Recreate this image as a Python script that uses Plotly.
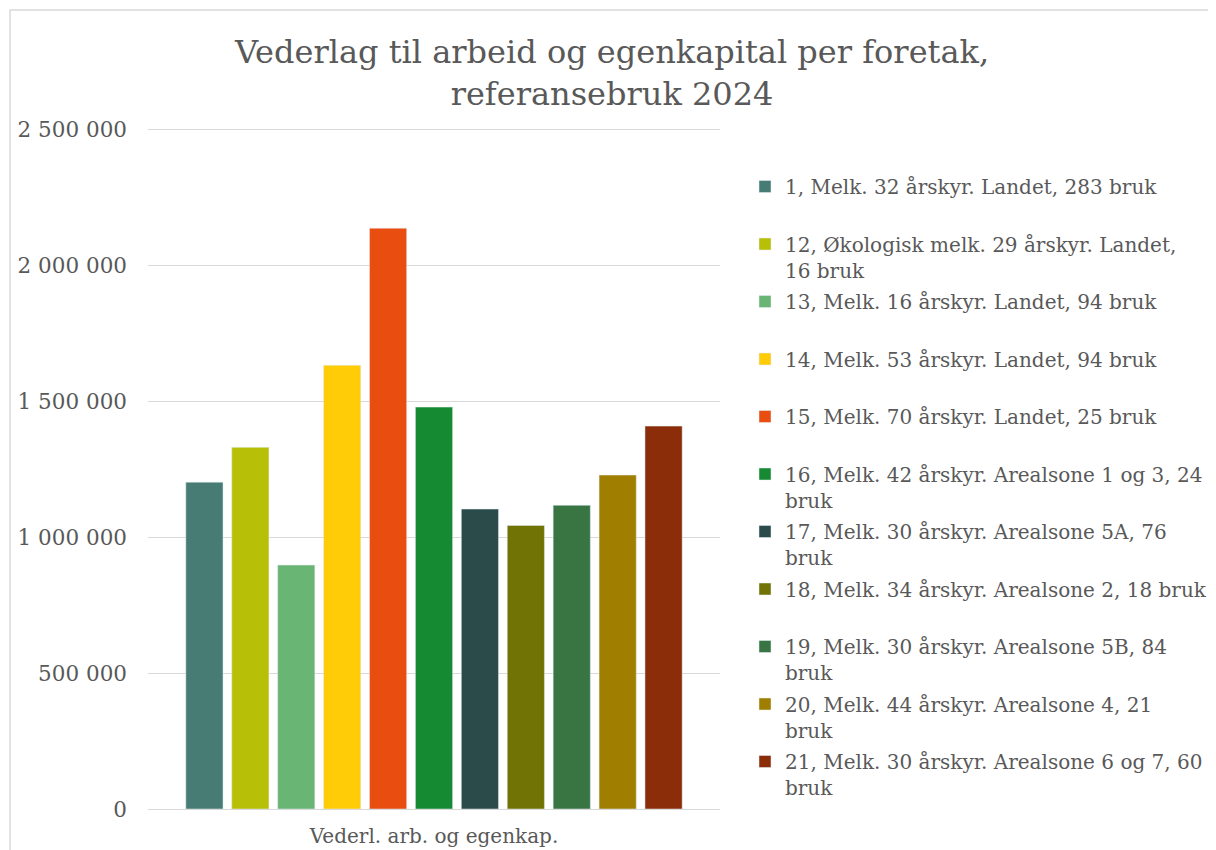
import plotly.graph_objects as go

# Data
kategori = ["Vederl. arb. og egenkap."]
serier = [
    "1, Melk. 32 årskyr. Landet, 283 bruk",
    "12, Økologisk melk. 29 årskyr. Landet,<br>16 bruk",
    "13, Melk. 16 årskyr. Landet, 94 bruk",
    "14, Melk. 53 årskyr. Landet, 94 bruk",
    "15, Melk. 70 årskyr. Landet, 25 bruk",
    "16, Melk. 42 årskyr. Arealsone 1 og 3, 24<br>bruk",
    "17, Melk. 30 årskyr. Arealsone 5A, 76<br>bruk",
    "18, Melk. 34 årskyr. Arealsone 2, 18 bruk",
    "19, Melk. 30 årskyr. Arealsone 5B, 84<br>bruk",
    "20, Melk. 44 årskyr. Arealsone 4, 21<br>bruk",
    "21, Melk. 30 årskyr. Arealsone 6 og 7, 60<br>bruk",
]
verdier = [1202000, 1330000, 897000, 1632000, 2136000, 1478000,
           1103000, 1043000, 1117000, 1228000, 1408000]
farger = ["#467C73", "#B8BF07", "#69B573", "#FFCC07", "#E94E10", "#158A32",
          "#2B4B4B", "#717304", "#387542", "#A07F00", "#8B2D08"]
y_ticks = [0, 500000, 1000000, 1500000, 2000000, 2500000]
y_max = 2508000  # litt over 2,5 mill. så toppgitterlinjen vises

FONT = "DejaVu Serif"
GRAA = "#595959"

fig = go.Figure()
for i, (navn, verdi, farge) in enumerate(zip(serier, verdier, farger)):
    # alle legend-oppføringer får to linjer for lik avstand
    tekst = navn if "<br>" in navn else navn + "<br> "
    fig.add_trace(go.Bar(
        x=kategori,
        y=[verdi],
        name=tekst,
        marker_color=farge,
        legendgroup=str(i),
    ))

# siden har 8 px marg i nettleseren, så alt regnes fra skjermpiksler
O = 8
W, H = 1216 - O, 850 - O
L, R, T, B = 148 - O, 1216 - 720, 119, 850 - O - (809 - O)
pw, ph = W - L - R, H - T - B

def px_x(p):
    return (p - O - L) / pw

def px_y(p):
    return (H - B - (p - O)) / ph

fig.update_layout(
    width=W,
    height=H,
    margin=dict(l=L, r=R, t=T, b=B, autoexpand=False),
    barmode="group",
    bargap=0.117,
    bargroupgap=0.19,
    separators=", ",
    plot_bgcolor="white",
    paper_bgcolor="white",
    font=dict(family=FONT, color=GRAA, size=20),
    title=dict(
        text="Vederlag til arbeid og egenkapital per foretak,<br>referansebruk 2024",
        x=0.5, xref="container", xanchor="center",
        y=1 - (63 - O) / H, yref="container", yanchor="top",
        font=dict(family=FONT, size=32, color=GRAA),
    ),
    legend=dict(
        x=px_x(745), y=px_y(167), xanchor="left", yanchor="top",
        font=dict(family=FONT, size=20, color=GRAA),
        valign="top",
        tracegroupgap=2.5,
        bgcolor="rgba(0,0,0,0)",
    ),
    shapes=[dict(
        type="rect", xref="paper", yref="paper",
        x0=px_x(10), x1=px_x(1240), y0=px_y(870), y1=px_y(10),
        line=dict(color="#D9D9D9", width=1.5),
        fillcolor="rgba(0,0,0,0)", layer="below",
    )],
)

fig.update_yaxes(
    range=[0, y_max],
    tickvals=y_ticks,
    tickformat=",",
    showgrid=True,
    gridcolor="#D9D9D9",
    gridwidth=1,
    zeroline=True,
    zerolinecolor="#D9D9D9",
    zerolinewidth=1,
    showline=False,
    ticks="",
    ticklabelstandoff=20,
    tickfont=dict(family=FONT, size=21.5, color=GRAA),
)
fig.update_xaxes(
    showgrid=False,
    showline=False,
    ticks="",
    ticklabelstandoff=13,
    tickfont=dict(family=FONT, size=20, color=GRAA),
)

fig.write_html("out.html")
